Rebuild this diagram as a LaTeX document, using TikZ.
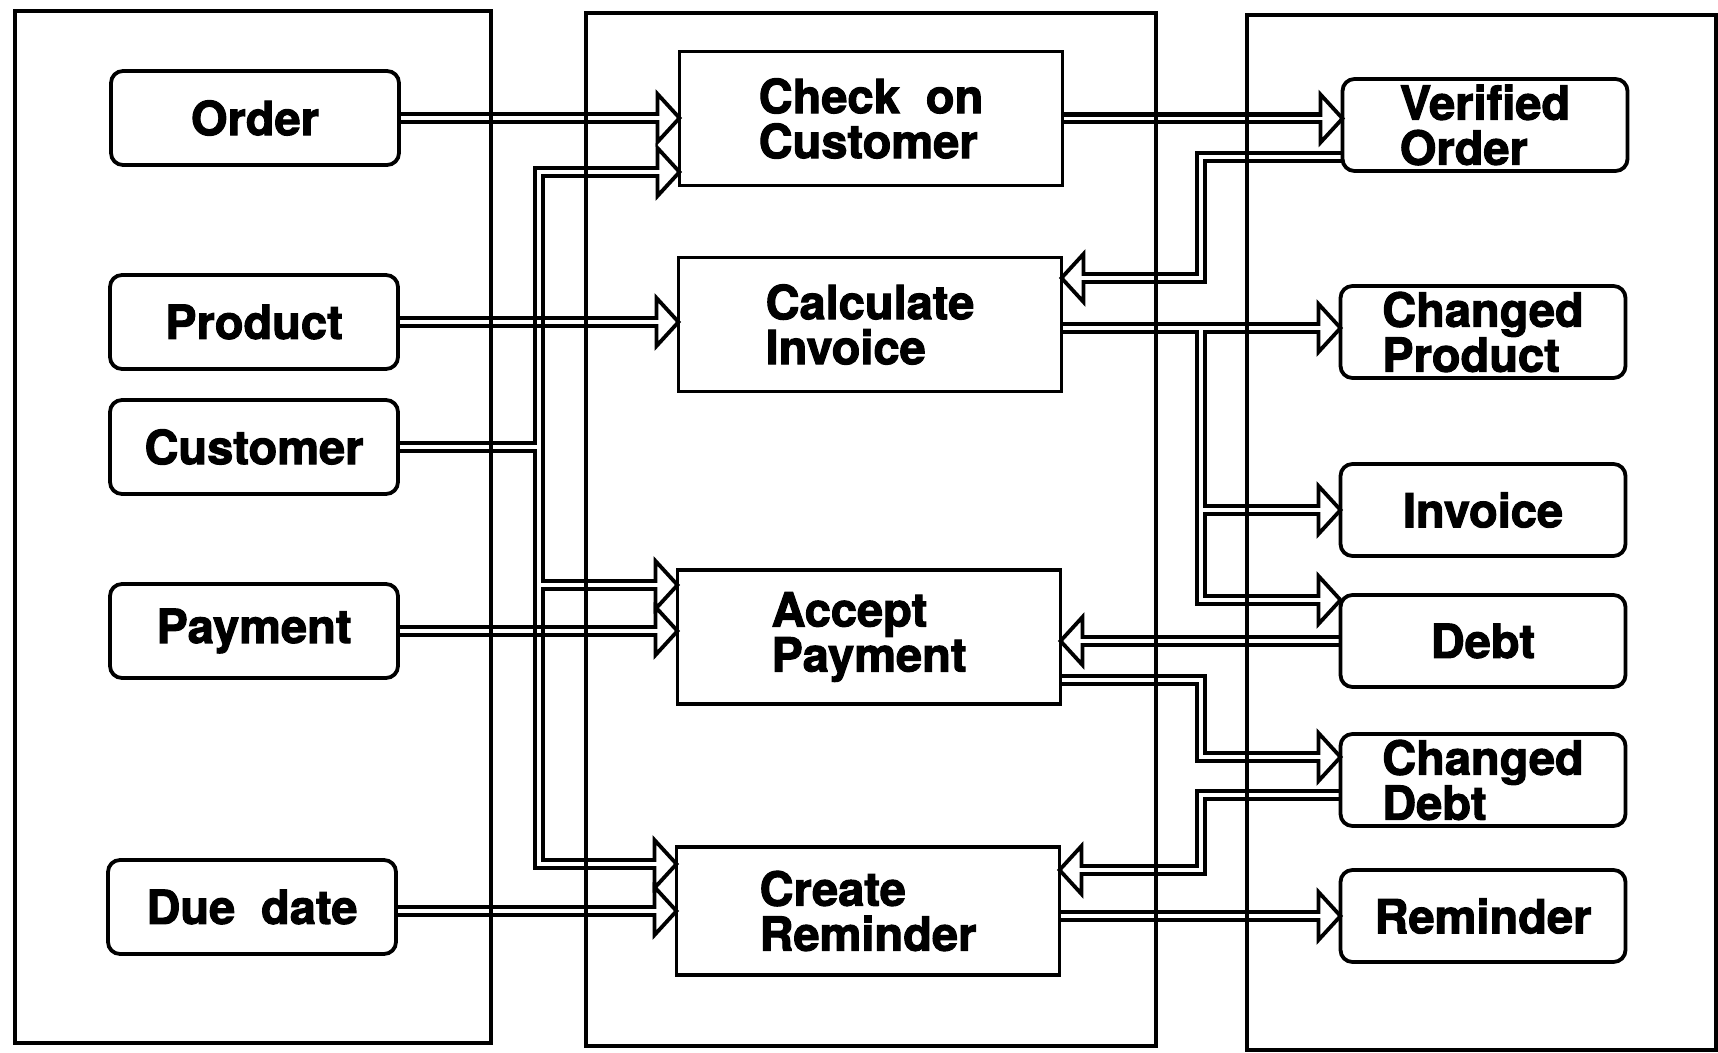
\documentclass[tikz,border=0pt]{standalone}
\usepackage{fontspec}
\setmainfont{TeX Gyre Heros}[BoldFeatures={FakeBold=2.2}]
\usetikzlibrary{backgrounds}

% Data-flow pipes that only join others; drawn twice (wide black, then
% narrow white) so that joints merge like hollow double lines.
\newcommand\wiring{%
  % inputs
  \draw[pipe, tipend] (order.east) -- (order.east -| check.west);
  \draw[pipe, tipend] (cust.east) -| (busT) -- (busT -| check.west);
  \draw[pipe, tipend] (cust.east) -| (busB) -- (busB -| create.west);
  \draw[pipe, tipend] (busA) -- (busA -| accept.west);
  \draw[pipe, tipend] (due.east |- create.west) -- (create.west);
  % outputs and feedback
  \draw[pipe, tipend] (check.east) -- (check.east -| vord.west);
  \draw[pipe, tipend] (vBendA -| vord.west) -- (vBendA) -- (vBendB) -- (vBendB -| calc.east);
  \draw[pipe, tipend] (calc.east |- rSplit) -- (rSplit -| cprod.west);
  \draw[pipe, tipend] (rSplit) -- (rDebt) -- (rDebt -| debt.west);
  \draw[pipe, tipend] (rInv) -- (rInv -| inv.west);
  \draw[pipe, tipend] (debt.west) -- (debt.west -| accept.east);
  \draw[pipe, tipend] (aBendA -| accept.east) -- (aBendA) -- (aBendB) -- (aBendB -| cdebt.west);
  \draw[pipe, tipend] (cBendA -| cdebt.west) -- (cBendA) -- (cBendB) -- (cBendB -| create.east);
  \draw[pipe, tipend] (create.east |- rem.west) -- (rem.west);
}

\begin{document}
\begin{tikzpicture}[x=0.5pt, y=-0.5pt,
  txt/.style={font=\fontsize{23.5}{22.5}\selectfont\bfseries, align=left},
  store/.style={txt, draw, line width=1.9pt, rounded corners=6pt, fill=white,
    inner sep=0pt, outer sep=0pt, minimum width=144pt, minimum height=47pt},
  outstore/.style={store, minimum width=142.5pt, minimum height=46pt},
  proc/.style={txt, draw, line width=1.9pt, fill=white, inner sep=0pt,
    outer sep=0pt, minimum width=191.5pt, minimum height=67pt},
  panel/.style={draw, line width=2.2pt},
  tipend/.style={shorten >=11pt},
  wall/.style={draw=black, line width=2.05pt},
  arrowhd/.pic={
    \filldraw[fill=white, draw=black, line width=1.9pt, line join=miter]
      (0,0) -- (-22,24) -- (-22,-24) -- cycle;
    \fill[white] (-26,-1.9) rectangle (-18,1.9);
  }]
\useasboundingbox (0,0) rectangle (1718,1053);

% three columns
\draw[panel] (15,11) rectangle (491,1043);
\draw[panel] (586,13) rectangle (1156,1046);
\draw[panel] (1247,15) rectangle (1716,1050);

% input stores
\node[store] (order) at (255,118) {Order};
\node[store] (prod)  at (254,322) {Product};
\node[store] (cust)  at (254,447) {Customer};
\node[store] (pay)   at (254,631) {Payment};
\node[store] (due)   at (252,907) {Due\hspace{0.55em}date};

% processes
\node[proc] (check)  at (871,118.5) {Check\hspace{0.55em}on\\Customer};
\node[proc] (calc)   at (870,324.5) {Calculate\\Invoice};
\node[proc] (accept) at (869,637) {Accept\\Payment};
\node[proc, minimum height=64pt] (create) at (868,911) {Create\\Reminder};

% output stores
\node[outstore] (vord)  at (1485,125) {Verified\\Order};
\node[outstore] (cprod) at (1483,332) {Changed\\Product};
\node[outstore] (inv)   at (1483,510) {Invoice};
\node[outstore] (debt)  at (1483,641) {Debt};
\node[outstore] (cdebt) at (1483,780) {Changed\\Debt};
\node[outstore] (rem)   at (1483,916) {Reminder};

% bends of the pipes
\coordinate (busT) at (539,172);
\coordinate (busA) at (539,585);
\coordinate (busB) at (539,864);
\coordinate (vBendA) at (1201,157);
\coordinate (vBendB) at (1201,278);
\coordinate (rSplit) at (1201,328);
\coordinate (rInv) at (1201,510);
\coordinate (rDebt) at (1201,600);
\coordinate (aBendA) at (1201,680);
\coordinate (aBendB) at (1201,757);
\coordinate (cBendA) at (1201,795);
\coordinate (cBendB) at (1201,870);

\begin{pgfonlayer}{background}
  \begin{scope}[pipe/.style={draw=black, line width=6pt, line join=miter}]
    \wiring
  \end{scope}
  \begin{scope}[pipe/.style={draw=white, line width=1.9pt, line join=miter}]
    \wiring
  \end{scope}
  % pipes that cross the customer bus: two walls each, drawn over it
  \foreach \s in {1.975pt,-1.975pt} {
    \draw[wall, tipend] ([yshift=\s]prod.east) -- ([yshift=\s]prod.east -| calc.west);
    \draw[wall, tipend] ([yshift=\s]pay.east) -- ([yshift=\s]pay.east -| accept.west);
  }
\end{pgfonlayer}

% arrow heads
\pic at (order.east -| check.west) {arrowhd};
\pic at (busT -| check.west) {arrowhd};
\pic at (prod.east -| calc.west) {arrowhd};
\pic at (busA -| accept.west) {arrowhd};
\pic at (pay.east -| accept.west) {arrowhd};
\pic at (busB -| create.west) {arrowhd};
\pic at (create.west) {arrowhd};
\pic at (check.east -| vord.west) {arrowhd};
\pic[rotate=180] at (vBendB -| calc.east) {arrowhd};
\pic at (rSplit -| cprod.west) {arrowhd};
\pic at (rInv -| inv.west) {arrowhd};
\pic at (rDebt -| debt.west) {arrowhd};
\pic[rotate=180] at (debt.west -| accept.east) {arrowhd};
\pic at (aBendB -| cdebt.west) {arrowhd};
\pic[rotate=180] at (cBendB -| create.east) {arrowhd};
\pic at (rem.west) {arrowhd};
\end{tikzpicture}
\end{document}
